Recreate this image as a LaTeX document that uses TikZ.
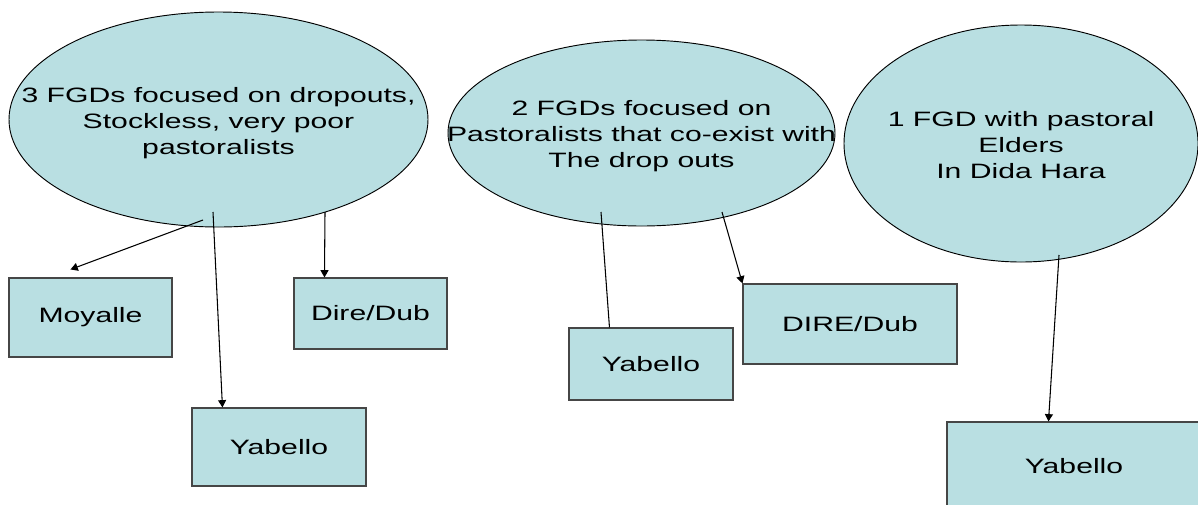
\documentclass[tikz,border=0pt]{standalone}
\usepackage{fontspec}
\setmainfont{Liberation Sans}[FakeStretch=1.45]
\usetikzlibrary{shapes.geometric,arrows.meta,calc}
\definecolor{paleblue}{RGB}{185,223,226}
\definecolor{boxedge}{RGB}{70,70,70}
\tikzset{
  txt/.style={font=\fontsize{15.6pt}{19.5pt}\selectfont, align=center, text=black},
  oval/.style={ellipse, draw=black, line width=0.7pt, fill=paleblue, inner sep=0pt},
  site/.style={rectangle, draw=boxedge, line width=0.8pt, fill=paleblue, inner sep=0pt, txt},
  link/.style={line width=0.8pt, draw=black},
  arr/.style={link, -{Triangle[length=5.5pt,width=6pt]}}
}
\begin{document}
\begin{tikzpicture}[x=0.75pt,y=-0.75pt]
\useasboundingbox (0,0) rectangle (1198,504);
\fill[white] (0,0) rectangle (1198,504);

% focus-group ovals (fixed size, caption set as a centred label)
\node[oval, minimum width=419*0.75pt, minimum height=215*0.75pt,
  label={[txt, yshift=-2.5pt]center:3 FGDs focused on dropouts,\\Stockless, very poor\\pastoralists}]
  (g1) at (218.5,119.5) {};
\node[oval, minimum width=387*0.75pt, minimum height=186*0.75pt,
  label={[txt, yshift=-2.5pt]center:2 FGDs focused on\\Pastoralists that co-exist with\\The drop outs}]
  (g2) at (641.5,133) {};
\node[oval, minimum width=354*0.75pt, minimum height=237*0.75pt,
  label={[txt, yshift=-1.5pt]center:1 FGD with pastoral\\Elders\\In Dida Hara}]
  (g3) at (1021,143.5) {};

% site boxes
\node[site, minimum width=163*0.75pt, minimum height=79*0.75pt] (moy) at (90.5,317.5) {Moyalle};
\node[site, minimum width=153*0.75pt, minimum height=71*0.75pt] (dd1) at (370.5,313.5) {Dire/Dub};
\node[site, minimum width=174*0.75pt, minimum height=78*0.75pt] (yb1) at (279,447) {Yabello};
\node[site, minimum width=164*0.75pt, minimum height=72*0.75pt] (yb2) at (651,364) {Yabello};
\node[site, minimum width=214*0.75pt, minimum height=80*0.75pt] (dd2) at (850,324) {DIRE/Dub};
\node[site, minimum width=254*0.75pt, minimum height=88*0.75pt] (yb3) at (1074,466) {Yabello};

% connector start points inside the ovals
\coordinate (s1) at (203,220);
\coordinate (s2) at (213,212);
\coordinate (s3) at (325,212);
\coordinate (s4) at (601,212);
\coordinate (s5) at (722,212);
\coordinate (s6) at (1059,255);

% connectors
\draw[arr] (s1) -- ($(moy.north west)+(62,-8)$);
\draw[arr] (s2) -- ($(yb1.north west)+(31,0)$);
\draw[arr] (s3) -- ($(dd1.north west)+(31,0)$);
\draw[link] (s4) -- ($(yb2.north west)+(41,0)$);
\draw[arr] (s5) -- (dd2.north west);
\draw[arr] (s6) -- ($(yb3.north west)+(102,0)$);
\end{tikzpicture}
\end{document}
